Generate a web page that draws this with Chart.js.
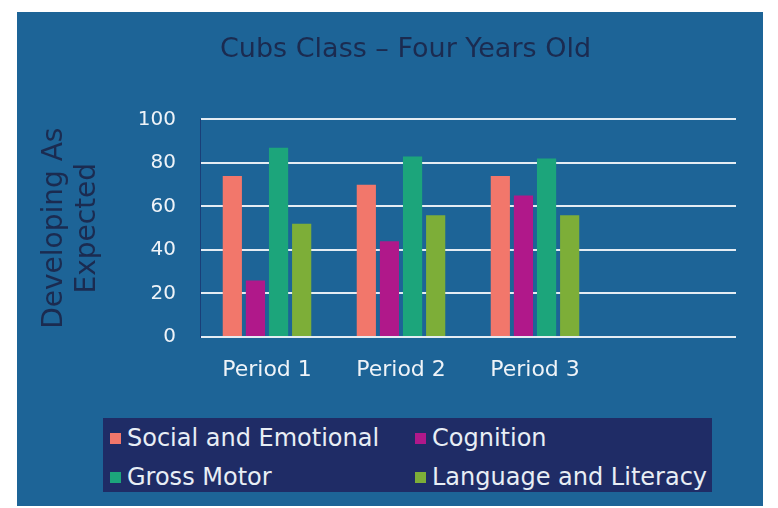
<!DOCTYPE html>
<html>
<head>
<meta charset="utf-8">
<script src="https://cdn.jsdelivr.net/npm/chart.js@4.4.1/dist/chart.umd.min.js"></script>
<style>
  html, body { margin: 0; padding: 0; background: #ffffff; }
  #panel {
    position: absolute; left: 17px; top: 12px; width: 746px; height: 494px;
    background: #1d6497;
  }
  #chart { position: absolute; left: 0; top: 0; }
  #legend {
    position: absolute; left: 86px; top: 406px; width: 609px; height: 74px;
    background: #1f2c66;
    font-family: "DejaVu Sans", sans-serif; font-size: 24px; color: #e8eef5;
  }
  .item { position: absolute; height: 28px; line-height: 28px; white-space: nowrap; }
  .item span.box { display: inline-block; width: 11px; height: 11px; margin-right: 6px; vertical-align: 2px; }
</style>
</head>
<body>
<div id="panel">
  <canvas id="chart" width="746" height="494"></canvas>
  <div id="legend"></div>
</div>
<script>
// datos
const periodos = ['Period 1', 'Period 2', 'Period 3', ''];
const socialEmocional = [74, 70, 74, null];
const cognicion = [26, 44, 65, null];
const motorGrueso = [87, 83, 82, null];
const lenguaje = [52, 56, 56, null];
const ticksY = [0, 20, 40, 60, 80, 100];

const series = [
  { label: 'Social and Emotional', data: socialEmocional, color: '#f2776b' },
  { label: 'Cognition', data: cognicion, color: '#b0188a' },
  { label: 'Gross Motor', data: motorGrueso, color: '#1ca57b' },
  { label: 'Language and Literacy', data: lenguaje, color: '#7dae38' }
];

// el título del original no está centrado en el lienzo, lo corro un poco
const moverTitulo = {
  id: 'moverTitulo',
  afterLayout(chart) {
    if (chart.titleBlock) {
      chart.titleBlock.left += 29;
      chart.titleBlock.right += 29;
    }
  }
};

const ctx = document.getElementById('chart').getContext('2d');

const chart = new Chart(ctx, {
  type: 'bar',
  data: {
    labels: periodos,
    datasets: series.map(s => ({
      label: s.label,
      data: s.data,
      backgroundColor: s.color,
      borderWidth: 0,
      barPercentage: 0.83,
      categoryPercentage: 0.69
    }))
  },
  options: {
    responsive: false,
    animation: false,
    layout: { padding: { left: 0, right: 27, top: 0, bottom: 0 } },
    plugins: {
      legend: { display: false },
      tooltip: { enabled: false },
      title: {
        display: true,
        text: 'Cubs Class – Four Years Old',
        color: '#1b2b50',
        font: { family: 'DejaVu Sans', size: 27, weight: 'normal' },
        padding: { top: 22, bottom: 53 }
      }
    },
    scales: {
      x: {
        grid: { display: false, drawTicks: false },
        border: { display: false },
        ticks: {
          color: '#eef3f8',
          font: { family: 'DejaVu Sans', size: 22 },
          padding: 20,
          maxRotation: 0
        },
        afterFit: (scale) => { scale.height = 169; }
      },
      y: {
        min: 0,
        max: 100,
        afterBuildTicks: (scale) => { scale.ticks = ticksY.map(v => ({ value: v })); },
        grid: { color: '#e4ecf3', lineWidth: 2, drawTicks: false },
        border: { display: true, color: '#1a3f78', width: 1 },
        ticks: {
          color: '#eef3f8',
          font: { family: 'DejaVu Sans', size: 20 },
          padding: 24
        },
        title: {
          display: true,
          text: ['Developing As', 'Expected'],
          color: '#1b2b50',
          font: { family: 'DejaVu Sans', size: 28, lineHeight: 1.15 },
          padding: { top: 22, bottom: 0 }
        },
        afterFit: (scale) => { scale.width = 183; }
      }
    }
  },
  plugins: [moverTitulo]
});

// leyenda en html, dos columnas
const legendEl = document.getElementById('legend');
const posiciones = [[7, 20], [312, 20], [7, 59], [312, 59]];
chart.data.datasets.forEach((ds, i) => {
  const div = document.createElement('div');
  div.className = 'item';
  div.style.left = posiciones[i][0] + 'px';
  div.style.top = (posiciones[i][1] - 14) + 'px';
  div.innerHTML = '<span class="box" style="background:' + ds.backgroundColor + '"></span>' + ds.label;
  legendEl.appendChild(div);
});
</script>
</body>
</html>
